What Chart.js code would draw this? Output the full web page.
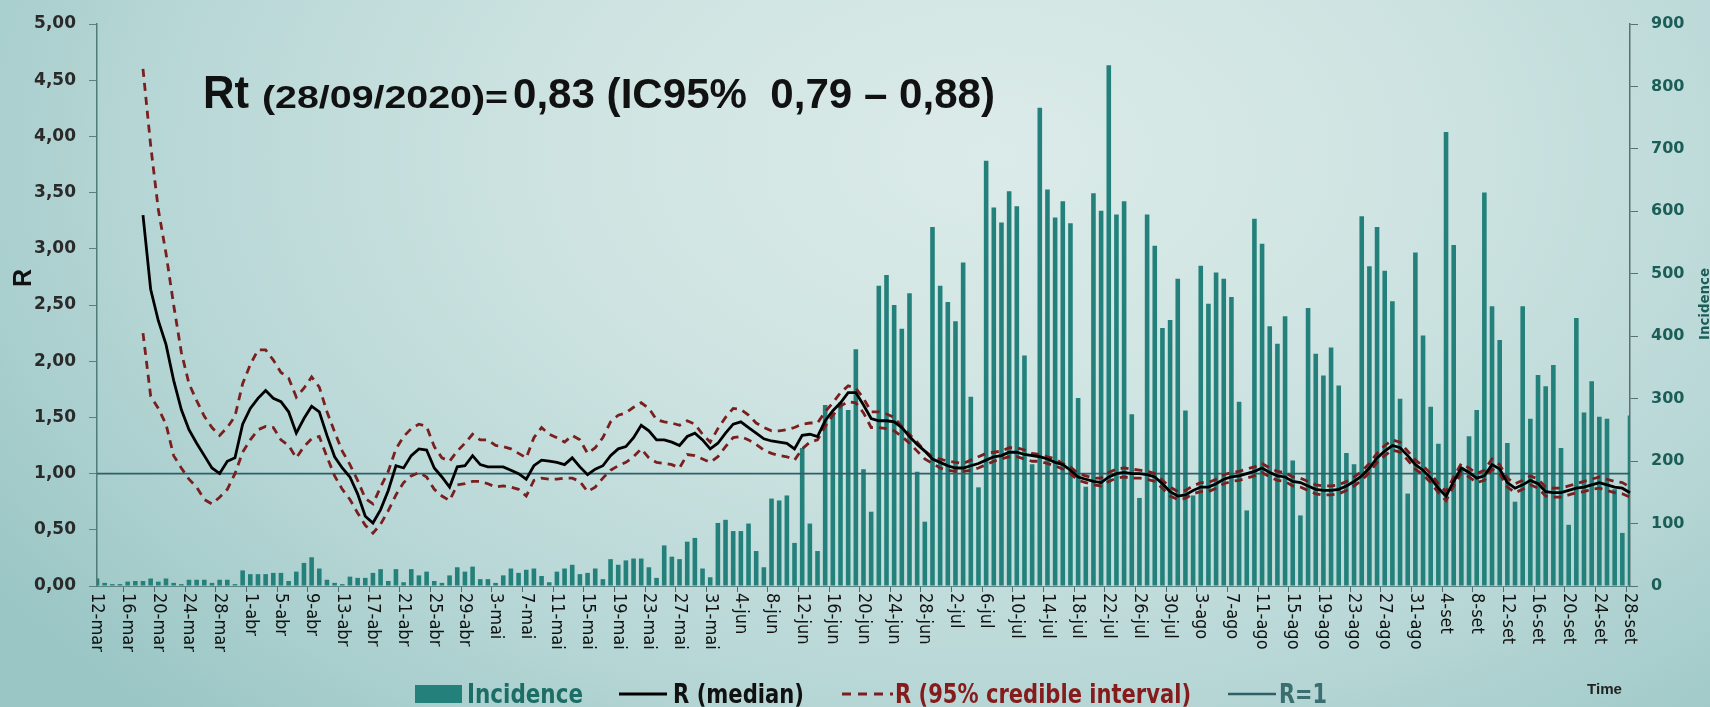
<!DOCTYPE html>
<html>
<head>
<meta charset="utf-8">
<script src="https://cdn.jsdelivr.net/npm/chart.js@4.4.1/dist/chart.umd.min.js"></script>
<style>
  html, body { margin: 0; padding: 0; }
  body {
    width: 1710px; height: 707px; overflow: hidden;
    background: radial-gradient(ellipse 70% 110% at 58% 22%, #dbebe9 0%, #cfe4e2 35%, #b7d7d6 70%, #9ac6c5 100%);
  }
</style>
</head>
<body>
<canvas id="rtChart" width="1710" height="707"></canvas>
<script>
// days 12-mar .. 28-set 2020
const monthNames = ['jan', 'fev', 'mar', 'abr', 'mai', 'jun', 'jul', 'ago', 'set', 'out', 'nov', 'dez'];
const categories = [];
for (let t = Date.UTC(2020, 2, 12); t <= Date.UTC(2020, 8, 28); t += 86400000) {
  const d = new Date(t);
  categories.push(d.getUTCDate() + '-' + monthNames[d.getUTCMonth()]);
}
const labelEvery = 4;

const incidence = [
  // mar 12-31
  12, 5, 3, 3, 7, 8, 8, 12, 7, 12, 5, 3, 10, 10, 10, 5, 10, 10, 3, 25,
  // abr
  19, 19, 19, 21, 21, 8, 23, 37, 46, 28, 10, 5, 3, 15, 13, 13, 21, 27, 8, 27,
  6, 27, 17, 23, 8, 5, 17, 30, 23, 31,
  // mai
  11, 11, 5, 17, 28, 21, 26, 28, 16, 6, 23, 28, 34, 19, 21, 28, 11, 43, 34, 41,
  44, 44, 30, 13, 65, 47, 43, 71, 77, 28, 14,
  // jun
  101, 106, 88, 88, 100, 56, 30, 140, 137, 145, 69, 221, 100, 56, 290, 277, 294, 282, 379, 187,
  119, 481, 498, 450, 412, 469, 183, 103, 575, 481,
  // jul
  455, 424, 518, 303, 158, 681, 606, 582, 632, 608, 369, 195, 766, 635, 590, 616, 581, 301, 159, 629,
  601, 834, 595, 616, 275, 141, 595, 545, 413, 426, 492,
  // ago
  281, 145, 513, 452, 502, 492, 463, 295, 121, 588, 548, 416, 388, 432, 201, 113, 445, 372, 337, 382,
  321, 213, 195, 592, 512, 575, 505, 456, 300, 148, 534,
  // set 1-28
  401, 287, 228, 727, 546, 190, 240, 282, 630, 448, 394, 229, 135, 448, 268, 338, 320, 354, 221, 98,
  429, 278, 328, 271, 268, 155, 85, 273
];

// R estimates start on 18-mar
const rMedian = [
  null, null, null, null, null, null,
  3.30, 2.64, 2.36, 2.15, 1.83, 1.57, 1.39, 1.27, 1.16, 1.05, 1.00, 1.11, 1.14, 1.44, 1.58, 1.67, 1.74, 1.67, 1.64,
  1.55, 1.36, 1.49, 1.60, 1.55, 1.34, 1.15, 1.05, 0.97, 0.82, 0.62, 0.56, 0.68, 0.85, 1.07,
  1.05, 1.16, 1.22, 1.21, 1.05, 0.97, 0.88, 1.06, 1.07, 1.16, 1.08,
  1.06, 1.06, 1.06, 1.03, 1.00, 0.95, 1.07, 1.12, 1.11, 1.10, 1.08, 1.14, 1.06, 0.99, 1.04, 1.07, 1.16, 1.22, 1.24, 1.32,
  1.43, 1.38, 1.30, 1.30, 1.28, 1.25,
  1.33, 1.36, 1.30, 1.22, 1.27, 1.36, 1.44, 1.46, 1.41, 1.36, 1.31, 1.29, 1.28, 1.27, 1.22, 1.34, 1.35, 1.33, 1.47, 1.56,
  1.63, 1.72, 1.72, 1.61,
  1.49, 1.47, 1.47, 1.46, 1.41, 1.33, 1.26, 1.20, 1.13, 1.10, 1.07, 1.05, 1.05, 1.07, 1.09, 1.12, 1.15, 1.16, 1.19, 1.19,
  1.17, 1.16, 1.15, 1.13, 1.10, 1.08, 1.03,
  0.97, 0.95, 0.93, 0.92, 0.97, 1.00, 1.01, 1.00, 1.00, 0.99, 0.97, 0.91, 0.84, 0.80, 0.81, 0.85, 0.88, 0.88, 0.91, 0.95,
  0.97, 0.98, 1.00, 1.02, 1.05,
  1.01, 0.98, 0.97, 0.93, 0.92, 0.89, 0.86, 0.85, 0.85, 0.86, 0.89, 0.93, 0.98, 1.05, 1.14, 1.20, 1.25, 1.23, 1.16, 1.08,
  1.03, 0.96, 0.87, 0.80, 0.93,
  1.05, 1.01, 0.96, 0.98, 1.08, 1.04, 0.92, 0.87, 0.90, 0.94, 0.91, 0.84, 0.83, 0.83, 0.85, 0.87, 0.88, 0.90, 0.92, 0.90,
  0.88, 0.87, 0.83
];

const rUpper = [
  null, null, null, null, null, null,
  4.60, 3.92, 3.35, 2.96, 2.50, 2.08, 1.80, 1.65, 1.51, 1.41, 1.34, 1.41, 1.51, 1.80, 1.97, 2.10, 2.10, 2.01, 1.90,
  1.85, 1.68, 1.76, 1.86, 1.77, 1.55, 1.37, 1.20, 1.08, 0.94, 0.78, 0.73, 0.88, 1.02, 1.22,
  1.33, 1.40, 1.44, 1.42, 1.24, 1.14, 1.11, 1.20, 1.27, 1.35, 1.30,
  1.30, 1.25, 1.24, 1.22, 1.18, 1.14, 1.32, 1.41, 1.35, 1.32, 1.28, 1.34, 1.30, 1.18, 1.23, 1.32, 1.46, 1.52, 1.54, 1.59,
  1.63, 1.58, 1.48, 1.46, 1.45, 1.43,
  1.47, 1.44, 1.35, 1.28, 1.40, 1.50, 1.58, 1.57, 1.52, 1.45, 1.41, 1.38, 1.38, 1.39, 1.41, 1.44, 1.45, 1.45, 1.55, 1.63,
  1.72, 1.78, 1.76, 1.67,
  1.55, 1.55, 1.53, 1.50, 1.42, 1.35, 1.28, 1.20, 1.15, 1.13, 1.11, 1.10, 1.09, 1.12, 1.15, 1.18, 1.19, 1.20, 1.23, 1.23,
  1.21, 1.18, 1.17, 1.15, 1.13, 1.09, 1.06,
  1.00, 0.98, 0.96, 0.96, 1.01, 1.04, 1.05, 1.04, 1.03, 1.02, 1.00, 0.94, 0.88, 0.84, 0.85, 0.89, 0.92, 0.92, 0.95, 0.99,
  1.01, 1.02, 1.04, 1.06, 1.09,
  1.05, 1.02, 1.01, 0.97, 0.96, 0.93, 0.90, 0.89, 0.89, 0.90, 0.93, 0.97, 1.02, 1.09, 1.18, 1.25, 1.30, 1.28, 1.20, 1.12,
  1.07, 1.00, 0.91, 0.84, 0.97,
  1.09, 1.05, 1.00, 1.03, 1.13, 1.08, 0.96, 0.91, 0.94, 0.98, 0.95, 0.88, 0.87, 0.87, 0.89, 0.91, 0.93, 0.95, 0.97, 0.95,
  0.93, 0.92, 0.88
];

const rLower = [
  null, null, null, null, null, null,
  2.25, 1.69, 1.58, 1.44, 1.16, 1.05, 0.95, 0.88, 0.77, 0.73, 0.79, 0.86, 1.00, 1.19, 1.30, 1.39, 1.42, 1.41, 1.30,
  1.25, 1.14, 1.24, 1.31, 1.33, 1.15, 0.98, 0.86, 0.77, 0.65, 0.54, 0.47, 0.55, 0.67, 0.81,
  0.92, 0.98, 1.01, 0.97, 0.86, 0.80, 0.76, 0.90, 0.91, 0.93, 0.93,
  0.91, 0.88, 0.89, 0.88, 0.86, 0.80, 0.94, 0.96, 0.95, 0.95, 0.96, 0.96, 0.93, 0.84, 0.88, 0.96, 1.03, 1.07, 1.10, 1.15,
  1.22, 1.14, 1.10, 1.09, 1.08, 1.05,
  1.17, 1.16, 1.13, 1.10, 1.15, 1.24, 1.32, 1.33, 1.30, 1.26, 1.21, 1.18, 1.16, 1.15, 1.12, 1.22, 1.28, 1.30, 1.42, 1.52,
  1.60, 1.64, 1.63, 1.54,
  1.41, 1.41, 1.40, 1.38, 1.33, 1.27, 1.20, 1.13, 1.09, 1.05, 1.03, 1.02, 1.02, 1.03, 1.05, 1.08, 1.11, 1.13, 1.15, 1.15,
  1.13, 1.11, 1.11, 1.09, 1.07, 1.04, 1.00,
  0.94, 0.92, 0.90, 0.89, 0.93, 0.96, 0.97, 0.96, 0.96, 0.95, 0.93, 0.87, 0.80, 0.77, 0.78, 0.82, 0.84, 0.84, 0.87, 0.91,
  0.93, 0.94, 0.96, 0.98, 1.01,
  0.97, 0.94, 0.93, 0.89, 0.88, 0.85, 0.82, 0.81, 0.81, 0.82, 0.85, 0.89, 0.94, 1.01, 1.10, 1.16, 1.21, 1.19, 1.12, 1.04,
  0.99, 0.92, 0.83, 0.76, 0.89,
  1.01, 0.97, 0.92, 0.94, 1.04, 1.00, 0.88, 0.83, 0.86, 0.90, 0.87, 0.80, 0.79, 0.79, 0.81, 0.83, 0.84, 0.86, 0.87, 0.85,
  0.83, 0.82, 0.79
];

const rOne = categories.map(() => 1);

const NARROW = "'Liberation Sans Narrow', 'DejaVu Sans Condensed', sans-serif";
const BAR_COLOR = '#23807a';
const CI_COLOR = '#7a1f1f';
const REF_COLOR = '#2f6068';

// draw text squeezed/stretched to a given width
function fitText(ctx, text, x, y, w, font, color) {
  ctx.save();
  ctx.font = font;
  const m = ctx.measureText(text).width;
  ctx.translate(x, y);
  ctx.scale(w / m, 1);
  ctx.fillStyle = color;
  ctx.textAlign = 'left';
  ctx.textBaseline = 'alphabetic';
  ctx.fillText(text, 0, 0);
  ctx.restore();
}

const extraText = {
  id: 'extraText',
  afterDraw(chart) {
    const ctx = chart.ctx;
    const xs = chart.scales.x;
    const bottom = chart.chartArea.bottom;

    // date labels, rotated top-to-bottom
    ctx.save();
    ctx.font = '18px ' + NARROW;
    ctx.fillStyle = '#111';
    ctx.textAlign = 'left';
    ctx.textBaseline = 'middle';
    categories.forEach((lab, i) => {
      if (i % labelEvery !== 0) return;
      ctx.save();
      ctx.translate(xs.getPixelForValue(i), bottom + 7);
      ctx.rotate(Math.PI / 2);
      ctx.fillText(lab, 0, 0);
      ctx.restore();
    });
    ctx.restore();

    // title
    fitText(ctx, 'Rt', 203, 108, 46, 'bold 47px "Liberation Sans", Arial, sans-serif', '#111');
    fitText(ctx, '(28/09/2020)=', 262, 108, 246, 'bold 32px "Liberation Sans", Arial, sans-serif', '#111');
    fitText(ctx, '0,83 (IC95%  0,79 \u2013 0,88)', 513, 108, 482, 'bold 42px "Liberation Sans", Arial, sans-serif', '#111');

    // axis titles
    ctx.save();
    ctx.translate(24, 278);
    ctx.rotate(-Math.PI / 2);
    ctx.font = 'bold 25px "Liberation Sans", Arial, sans-serif';
    ctx.fillStyle = '#111';
    ctx.textAlign = 'center';
    ctx.textBaseline = 'middle';
    ctx.fillText('R', 0, 0);
    ctx.restore();

    ctx.save();
    ctx.translate(1704, 304);
    ctx.rotate(-Math.PI / 2);
    fitText(ctx, 'Incidence', -36, 5, 72, 'bold 14px ' + NARROW, '#1b5e58');
    ctx.restore();

    fitText(ctx, 'Time', 1587, 694, 35, 'bold 15px "Liberation Sans", Arial, sans-serif', '#222');

    // legend
    const ly = 694, base = 703;
    ctx.save();
    ctx.fillStyle = BAR_COLOR;
    ctx.fillRect(415, 685, 47, 18);
    ctx.lineWidth = 3;
    ctx.strokeStyle = '#000';
    ctx.beginPath(); ctx.moveTo(619, ly); ctx.lineTo(667, ly); ctx.stroke();
    ctx.strokeStyle = CI_COLOR;
    ctx.setLineDash([9, 7]);
    ctx.beginPath(); ctx.moveTo(842, ly); ctx.lineTo(893, ly); ctx.stroke();
    ctx.setLineDash([]);
    ctx.strokeStyle = REF_COLOR;
    ctx.lineWidth = 2.5;
    ctx.beginPath(); ctx.moveTo(1228, ly); ctx.lineTo(1276, ly); ctx.stroke();
    ctx.restore();
    fitText(ctx, 'Incidence', 467, base, 116, 'bold 27px ' + NARROW, '#1d6d67');
    fitText(ctx, 'R (median)', 673, base, 131, 'bold 27px ' + NARROW, '#111');
    fitText(ctx, 'R (95% credible interval)', 895, base, 296, 'bold 27px ' + NARROW, '#861b1b');
    fitText(ctx, 'R=1', 1279, base, 48, 'bold 27px ' + NARROW, '#3b6e70');
  }
};

new Chart(document.getElementById('rtChart').getContext('2d'), {
  data: {
    labels: categories,
    datasets: [
      {
        type: 'line', label: 'R (median)', data: rMedian, yAxisID: 'y', order: 0,
        borderColor: '#000', borderWidth: 2.8, pointRadius: 0, tension: 0
      },
      {
        type: 'line', label: 'R (95% credible interval)', data: rUpper, yAxisID: 'y', order: 1,
        borderColor: CI_COLOR, borderWidth: 2.8, borderDash: [8, 6], pointRadius: 0
      },
      {
        type: 'line', label: 'R (95% credible interval) low', data: rLower, yAxisID: 'y', order: 1,
        borderColor: CI_COLOR, borderWidth: 2.8, borderDash: [8, 6], pointRadius: 0
      },
      {
        type: 'line', label: 'R=1', data: rOne, yAxisID: 'y', order: 2,
        borderColor: REF_COLOR, borderWidth: 1.8, pointRadius: 0
      },
      {
        type: 'bar', label: 'Incidence', data: incidence, yAxisID: 'y1', order: 3,
        backgroundColor: BAR_COLOR, barPercentage: 0.6, categoryPercentage: 1.0
      }
    ]
  },
  options: {
    responsive: false,
    animation: false,
    layout: { padding: { top: 24, left: 0, right: 0, bottom: 0 } },
    plugins: {
      legend: { display: false },
      tooltip: { enabled: false }
    },
    scales: {
      x: {
        type: 'category',
        offset: false,
        afterFit: s => { s.height = 121; },
        ticks: { display: false },
        grid: {
          drawOnChartArea: false,
          tickLength: 6,
          tickColor: c => (c.index % labelEvery === 0 ? '#4f6f70' : 'rgba(0,0,0,0)')
        },
        border: { display: true, color: '#5f8586', width: 1 }
      },
      y: {
        position: 'left',
        min: 0, max: 5,
        afterFit: s => { s.width = 97; },
        ticks: {
          stepSize: 0.5,
          padding: 13,
          color: '#2a2a2a',
          font: { family: 'DejaVu Sans', weight: 'bold', size: 17 },
          callback: v => v.toFixed(2).replace('.', ',')
        },
        grid: { drawOnChartArea: false, tickLength: 8, tickColor: '#5d7f7f' },
        border: { display: true, color: '#4f7b7b', width: 1.5 }
      },
      y1: {
        position: 'right',
        min: 0, max: 900,
        afterFit: s => { s.width = 80; },
        ticks: {
          stepSize: 100,
          padding: 13,
          color: '#1b5e58',
          font: { family: 'DejaVu Sans', weight: 'bold', size: 16 }
        },
        grid: { drawOnChartArea: false, tickLength: 8, tickColor: '#5d7070' },
        border: { display: true, color: '#5d7070', width: 1.5 }
      }
    }
  },
  plugins: [extraText]
});
</script>
</body>
</html>
